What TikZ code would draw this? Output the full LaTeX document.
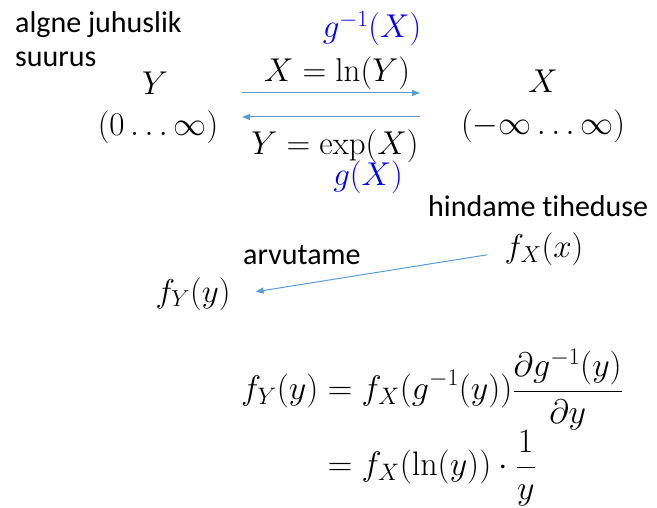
\documentclass[tikz,border=0pt]{standalone}
\usepackage{fix-cm}
\usepackage{amsmath}
\usepackage[no-math]{fontspec}
\newfontfamily\calib[Ligatures={NoCommon,NoDiscretionary,NoRare}]{Carlito}
\usepackage{tikz}
\usetikzlibrary{arrows.meta}
\definecolor{arrblue}{RGB}{91,155,213}

\begin{document}
\begin{tikzpicture}[
  x=1pt, y=-1pt,
  txt/.style={anchor=base west, inner sep=0pt, font=\calib\fontsize{30}{34}\selectfont},
  mth/.style={anchor=base, inner sep=0pt, font=\fontsize{33}{38}\selectfont},
  fn/.style={mth, text=blue},
  arr/.style={arrblue, line width=1pt, -{Triangle[length=8pt, width=6pt]}}
]
  \useasboundingbox (0,0) rectangle (657,508);

  % random variables
  \node[txt] (orig1) at (15,33) {algne juhuslik};
  \node[txt] (orig2) at (15,67) {suurus};
  \node[mth] (Y) at (155,95) {$Y$};
  \node[mth] (Yrange) at (158,136) {$(0\ldots\infty)$};
  \node[mth] (X) at (543,93) {$X$};
  \node[mth] (Xrange) at (543,135) {$(-\infty\ldots\infty)$};

  % transformations
  \node[fn] (ginv) at (372,38) {$g^{-1}(X)$};
  \node[mth] (ln) at (337,82) {$X=\ln(Y)$};
  \node[mth] (exp) at (335,155) {$Y=\exp(X)$};
  \node[fn] (g) at (368,186) {$g(X)$};
  \coordinate (topL) at (242,93);
  \coordinate (topR) at (420,93);
  \coordinate (botL) at (242,117);
  \coordinate (botR) at (420,117);
  \draw[arr] (topL) -- (topR);
  \draw[arr] (botR) -- (botL);

  % densities
  \node[txt] (hind) at (428,217) {hindame tiheduse};
  \node[mth] (fX) at (544,258) {$f_X(x)$};
  \node[txt] (arv) at (243,265) {arvutame};
  \node[mth] (fY) at (193,302) {$f_Y(y)$};
  \draw[arr] ([xshift=-17pt,yshift=-5pt]fX.west) -- ([xshift=25pt,yshift=2pt]fY.east);

  \node[anchor=north west, inner sep=0pt, font=\fontsize{34}{40}\selectfont] (eq) at (241,349)
    {$\displaystyle\begin{aligned}
      f_Y(y) &= f_X(g^{-1}(y))\frac{\partial g^{-1}(y)}{\partial y}\\[-3pt]
             &= f_X(\ln(y))\cdot\frac{1}{y}
    \end{aligned}$};
\end{tikzpicture}
\end{document}
